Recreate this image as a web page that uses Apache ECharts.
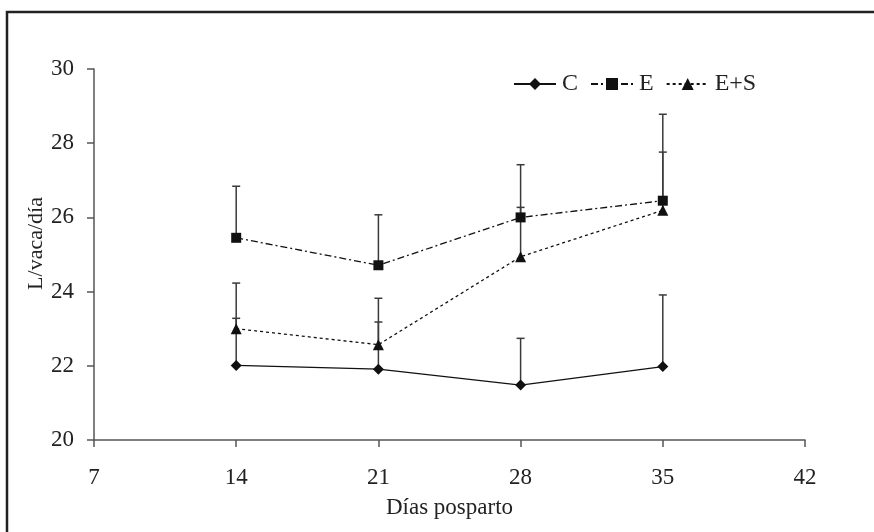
<!DOCTYPE html>
<html>
<head>
<meta charset="utf-8">
<script src="https://cdn.jsdelivr.net/npm/echarts@6/dist/echarts.min.js"></script>
<style>
  html, body { margin: 0; padding: 0; background: #fff; }
  #chart { width: 874px; height: 532px; }
</style>
</head>
<body>
<div id="chart"></div>
<script>
// días posparto
const days = [14, 21, 28, 35]
const xTicks = [7, 14, 21, 28, 35, 42]
// medias (L/vaca/día)
const meanC = [22.01, 21.91, 21.48, 21.98]
const meanE = [25.45, 24.71, 26.0, 26.45]
const meanES = [23.0, 22.57, 24.94, 26.19]
// extremo superior de la barra de error
const topC = [23.28, 23.18, 22.74, 23.91]
const topE = [26.84, 26.07, 27.42, 28.78]
const topES = [24.23, 23.82, 26.27, 27.76]

const FONT = 'Liberation Serif'

function pairs(ys) {
  return days.map((d, i) => [d, ys[i]])
}

function errorSeries(means, tops) {
  return {
    type: 'custom',
    silent: true,
    z: 1,
    data: days.map((d, i) => [d, means[i], tops[i]]),
    renderItem: function(params, api) {
      const base = api.coord([api.value(0), api.value(1)])
      const top = api.coord([api.value(0), api.value(2)])
      const style = { stroke: '#3a3a3a', lineWidth: 1.5 }
      return {
        type: 'group',
        children: [
          { type: 'line', shape: { x1: base[0], y1: base[1], x2: top[0], y2: top[1] }, style: style },
          { type: 'line', shape: { x1: top[0] - 4, y1: top[1], x2: top[0] + 4, y2: top[1] }, style: style }
        ]
      }
    }
  }
}

const chart = echarts.init(document.getElementById('chart'))
chart.setOption({
  animation: false,
  backgroundColor: '#fff',
  textStyle: { fontFamily: FONT, color: '#222' },
  graphic: [{
    type: 'rect',
    shape: { x: 7, y: 12, width: 880, height: 540 },
    style: { fill: 'none', stroke: '#222', lineWidth: 2.5 },
    z: 100
  }],
  grid: { left: 94, right: 69, top: 69, bottom: 92 },
  legend: {
    left: 508,
    top: 67,
    itemWidth: 42,
    itemHeight: 15,
    itemGap: 12,
    textStyle: { fontFamily: FONT, fontSize: 24, color: '#222', padding: [0, 0, 0, 1] },
    data: ['C', 'E', 'E+S']
  },
  xAxis: {
    type: 'value',
    min: 7,
    max: 42,
    interval: 7,
    name: 'Días posparto',
    nameLocation: 'middle',
    nameGap: 56,
    nameMoveOverlap: false,
    nameTextStyle: { fontFamily: FONT, fontSize: 23, color: '#222' },
    axisLine: { lineStyle: { color: '#555', width: 1.5 } },
    axisTick: { length: 7, lineStyle: { color: '#555', width: 1.5 } },
    axisLabel: {
      fontFamily: FONT, fontSize: 23, color: '#222', margin: 26,
      formatter: v => xTicks.includes(v) ? String(v) : ''
    },
    splitLine: { show: false }
  },
  yAxis: {
    type: 'value',
    min: 20,
    max: 30,
    interval: 2,
    name: 'L/vaca/día',
    nameLocation: 'middle',
    nameGap: 47,
    nameMoveOverlap: false,
    nameTextStyle: { fontFamily: FONT, fontSize: 22, color: '#222', padding: [0, 0, 0, 22] },
    axisLine: { show: true, lineStyle: { color: '#555', width: 1.5 } },
    axisTick: { show: true, length: 7, lineStyle: { color: '#555', width: 1.5 } },
    axisLabel: { fontFamily: FONT, fontSize: 23, color: '#222', margin: 20 },
    splitLine: { show: false }
  },
  series: [
    errorSeries(meanC, topC),
    errorSeries(meanE, topE),
    errorSeries(meanES, topES),
    {
      name: 'C',
      type: 'line',
      data: pairs(meanC),
      symbol: 'diamond',
      symbolSize: 11,
      z: 3,
      itemStyle: { color: '#111' },
      lineStyle: { color: '#111', width: 1.3, type: 'solid' }
    },
    {
      name: 'E',
      type: 'line',
      data: pairs(meanE),
      symbol: 'rect',
      symbolSize: 10,
      z: 3,
      itemStyle: { color: '#111' },
      lineStyle: { color: '#111', width: 1.3, type: [7, 3, 2, 3] }
    },
    {
      name: 'E+S',
      type: 'line',
      data: pairs(meanES),
      symbol: 'triangle',
      symbolSize: 11,
      z: 3,
      itemStyle: { color: '#111' },
      lineStyle: { color: '#111', width: 1.3, type: [3, 3] }
    }
  ]
})
</script>
</body>
</html>
